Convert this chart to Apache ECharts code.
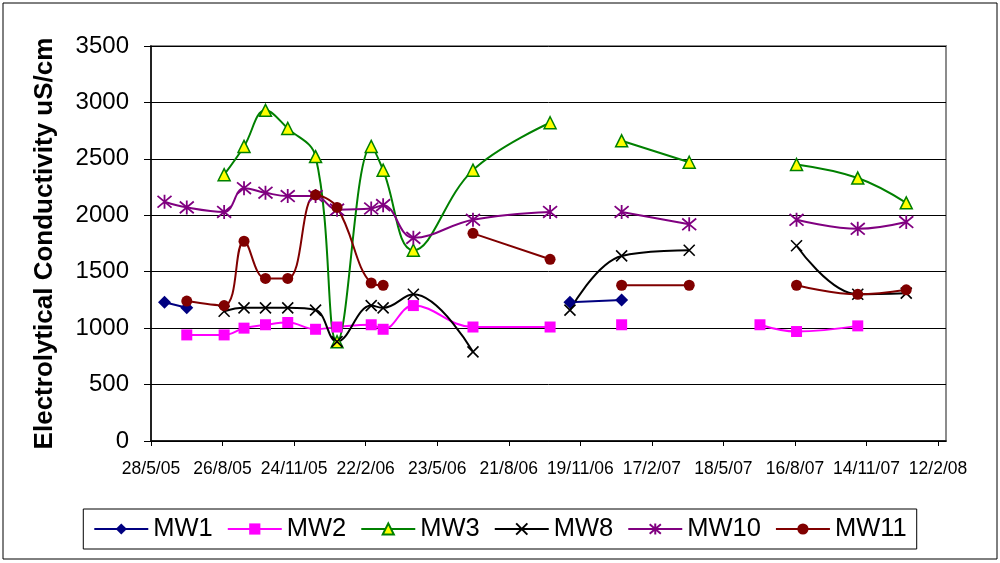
<!DOCTYPE html>
<html>
<head>
<meta charset="utf-8">
<script src="https://cdn.jsdelivr.net/npm/echarts@6/dist/echarts.min.js"></script>
<style>
  html, body { margin: 0; padding: 0; background: #ffffff; }
  #chart { width: 1000px; height: 563px; }
</style>
</head>
<body>
<div id="chart"></div>
<script>
// Sampling dates shared by all monitoring wells (null = not sampled / gap in line)
const sampleDates = [
  '2005-06-14', '2005-07-12', '2005-08-28', '2005-09-22', '2005-10-19',
  '2005-11-16', '2005-12-21', '2006-01-17', '2006-03-01', '2006-03-16',
  '2006-04-23', '2006-07-07', '2006-10-12', '2006-11-06', '2007-01-10',
  '2007-04-05', '2007-07-03', '2007-08-18', '2007-11-03', '2008-01-03'
];

// Electrolytical conductivity, uS/cm
const mw1  = [1230, 1180, null, null, null, null, null, null, null, null, null, null, null, 1230, 1250, null, null, null, null, null];
const mw2  = [null, 940, 940, 1000, 1030, 1050, 990, 1010, 1030, 990, 1200, 1010, 1010, null, 1030, null, 1030, 970, 1020, null];
const mw3  = [null, null, 2360, 2610, 2930, 2770, 2520, 880, 2610, 2400, 1690, 2400, 2820, null, 2660, 2470, null, 2450, 2330, 2110];
const mw8  = [null, null, 1150, 1180, 1180, 1180, 1160, 880, 1200, 1180, 1300, 790, null, 1160, 1640, 1690, null, 1730, 1300, 1310];
const mw10 = [2120, 2070, 2030, 2240, 2200, 2170, 2170, 2050, 2060, 2090, 1800, 1960, 2030, null, 2030, 1920, null, 1960, 1880, 1940];
const mw11 = [null, 1240, 1200, 1770, 1440, 1440, 2180, 2070, 1400, 1380, null, 1840, 1610, null, 1380, 1380, null, 1380, 1300, 1340];

// Date axis: days counted from the first axis date, ticks every 90 days
const axisStartDate = '2005-05-28';
const axisSpanDays = 1000;
const tickStepDays = 90;

const DAY = 86400000;
function toUTC(s) {
  const p = s.split('-').map(Number);
  return Date.UTC(p[0], p[1] - 1, p[2]);
}
const originMs = toUTC(axisStartDate);
function dayOffset(s) { return Math.round((toUTC(s) - originMs) / DAY); }
function fmtDay(v) {
  const d = new Date(originMs + v * DAY);
  return d.getUTCDate() + '/' + (d.getUTCMonth() + 1) + '/' + String(d.getUTCFullYear()).slice(2);
}
function pairs(values) {
  return sampleDates.map((s, i) => [dayOffset(s), values[i] == null ? '-' : values[i]]);
}
const tickValues = [];
for (let v = 0; v < axisSpanDays; v += tickStepDays) tickValues.push(v);

const FONT = '"Liberation Sans", Arial, sans-serif';
const crossPath = 'path://M0,0L10,10M10,0L0,10';
const starPath = 'path://M0,0L10,10M10,0L0,10M5,-1L5,11';

function wellSeries(name, values, color, symbol, size, extra) {
  return Object.assign({
    name: name,
    type: 'line',
    data: pairs(values),
    smooth: 0.4,
    connectNulls: false,
    symbol: symbol,
    symbolSize: size,
    showAllSymbol: true,
    lineStyle: { color: color, width: 2 },
    itemStyle: { color: color, borderColor: color, borderWidth: 0 },
    emphasis: { disabled: true },
    animation: false
  }, extra || {});
}

const chart = echarts.init(document.getElementById('chart'), null, { renderer: 'canvas' });
chart.setOption({
  backgroundColor: '#ffffff',
  animation: false,
  textStyle: { fontFamily: FONT },
  graphic: [{
    type: 'rect',
    shape: { x: 3, y: 3, width: 994, height: 556 },
    style: { fill: null, stroke: '#000000', lineWidth: 1 },
    silent: true,
    z: -10
  }],
  grid: {
    left: 151, right: 54, top: 46, bottom: 122,
    show: true, borderColor: '#8c8c8c', borderWidth: 2, backgroundColor: 'transparent'
  },
  legend: {
    data: ['MW1', 'MW2', 'MW3', 'MW8', 'MW10', 'MW11'],
    left: 'center',
    top: 509,
    orient: 'horizontal',
    itemWidth: 54,
    itemHeight: 14,
    itemGap: 14,
    padding: [7, 10],
    borderColor: '#000000',
    borderWidth: 1,
    textStyle: { fontSize: 25.5, color: '#000000', fontFamily: FONT }
  },
  xAxis: {
    type: 'value',
    min: 0,
    max: axisSpanDays,
    interval: tickStepDays,
    axisLine: { show: true, onZero: false, lineStyle: { color: '#000000', width: 1.5 } },
    axisTick: { show: true, inside: false, length: 5, customValues: tickValues, lineStyle: { color: '#000000', width: 1 } },
    axisLabel: {
      customValues: tickValues,
      formatter: fmtDay,
      fontSize: 17.5, color: '#000000', margin: 19, fontFamily: FONT
    },
    splitLine: { show: false }
  },
  yAxis: {
    type: 'value',
    min: 0,
    max: 3500,
    interval: 500,
    name: 'Electrolytical Conductivity uS/cm',
    nameLocation: 'middle',
    nameRotate: 90,
    nameGap: 93,
    nameTextStyle: { fontSize: 26, fontWeight: 'bold', color: '#000000', fontFamily: FONT },
    axisLine: { show: true, lineStyle: { color: '#000000', width: 1.5 } },
    axisTick: { show: true, inside: false, length: 7, lineStyle: { color: '#000000', width: 1 } },
    axisLabel: { fontSize: 24, color: '#000000', margin: 22, fontFamily: FONT, formatter: (v) => String(v) },
    splitLine: { show: true, lineStyle: { color: '#000000', width: 1 } }
  },
  series: [
    wellSeries('MW1', mw1, '#000080', 'diamond', 13),
    wellSeries('MW2', mw2, '#ff00ff', 'rect', 11),
    wellSeries('MW3', mw3, '#008000', 'triangle', 12, {
      itemStyle: { color: '#ffff00', borderColor: '#008000', borderWidth: 1.5 }
    }),
    wellSeries('MW8', mw8, '#000000', crossPath, 11, {
      itemStyle: { color: 'transparent', borderColor: '#000000', borderWidth: 1.6 }
    }),
    wellSeries('MW10', mw10, '#800080', starPath, 14, {
      itemStyle: { color: 'transparent', borderColor: '#800080', borderWidth: 1.8 }
    }),
    wellSeries('MW11', mw11, '#800000', 'circle', 11)
  ]
});
</script>
</body>
</html>
